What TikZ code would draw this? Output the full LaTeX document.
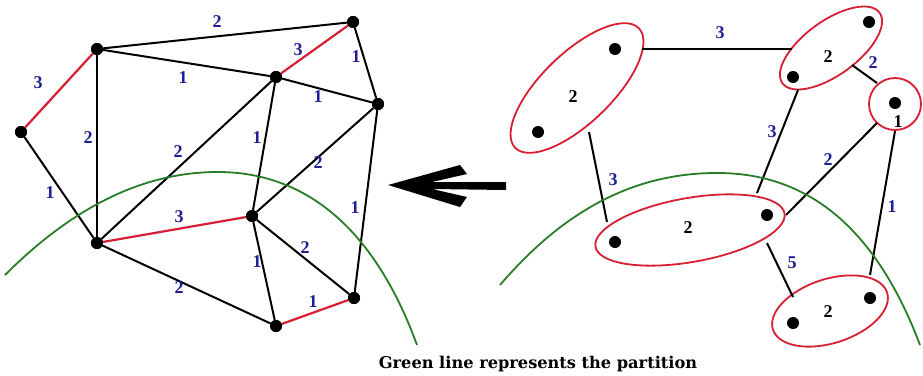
\documentclass[tikz,border=0pt]{standalone}
\usepackage{fontspec}
\setmainfont{Liberation Serif}
\newfontfamily\capfont{DejaVu Serif}
\usetikzlibrary{shapes.geometric}
\definecolor{lblue}{RGB}{30,30,150}
\definecolor{ered}{RGB}{215,30,50}
\definecolor{pgreen}{RGB}{40,125,40}
\begin{document}
\begin{tikzpicture}[x=1pt,y=-1pt,
  vtx/.style={circle,fill=black,inner sep=0pt,minimum size=12pt},
  edge/.style={line width=2pt,black},
  thinedge/.style={line width=1.2pt,black},
  redge/.style={line width=2.2pt,ered},
  lbl/.style={font=\fontsize{18}{18}\selectfont\bfseries,text=lblue,inner sep=0pt},
  wlbl/.style={font=\fontsize{18}{18}\selectfont\bfseries,text=black,inner sep=0pt},
  group/.style={ellipse,draw=ered,line width=1.8pt,inner sep=0pt},
  part/.style={draw=pgreen,line width=1.8pt}
]
\useasboundingbox (0,0) rectangle (923,375);

% ---------- left graph ----------
\node[vtx] (A) at (21,132) {};
\node[vtx] (B) at (97,49) {};
\node[vtx] (C) at (353,22) {};
\node[vtx] (D) at (276,77) {};
\node[vtx] (E) at (378,104) {};
\node[vtx] (F) at (97,243) {};
\node[vtx] (G) at (252,216) {};
\node[vtx] (H) at (276,326) {};
\node[vtx] (I) at (354,298) {};

\draw[redge] (A) -- (B);
\draw[edge] (A) -- (F);
\draw[edge] (B) -- (C);
\draw[edge] (B) -- (D);
\draw[thinedge] (B) -- (F);
\draw[redge] (C) -- (D);
\draw[edge] (C) -- (E);
\draw[edge] (D) -- (E);
\draw[edge] (D) -- (F);
\draw[edge] (D) -- (G);
\draw[edge] (E) -- (G);
\draw[edge] (E) -- (I);
\draw[redge] (F) -- (G);
\draw[edge] (F) -- (H);
\draw[edge] (G) -- (H);
\draw[edge] (G) -- (I);
\draw[redge] (H) -- (I);

\draw[part] (5,275) .. controls (60,220) and (130,173) .. (215,172)
                    .. controls (300,171) and (372,222) .. (417,345);

\foreach \n in {A,B,C,D,E,F,G,H,I} \node[vtx] at (\n) {};

\node[lbl] (lAB) at (38,83) {3};
\node[lbl] (lAF) at (50,193) {1};
\node[lbl] (lBC) at (217,22) {2};
\node[lbl] (lBD) at (183,78) {1};
\node[lbl] (lBF) at (88,138) {2};
\node[lbl] (lCD) at (298,50) {3};
\node[lbl] (lCE) at (356,57) {1};
\node[lbl] (lDE) at (318,97) {1};
\node[lbl] (lDF) at (178,152) {2};
\node[lbl] (lDG) at (257,138) {1};
\node[lbl] (lEG) at (318,163) {2};
\node[lbl] (lEI) at (355,208) {1};
\node[lbl] (lFG) at (179,217) {3};
\node[lbl] (lFH) at (179,288) {2};
\node[lbl] (lGH) at (257,262) {1};
\node[lbl] (lGI) at (305,248) {2};
\node[lbl] (lHI) at (313,302) {1};

% ---------- arrow ----------
\fill[black] (388,185) -- (460,165) -- (467,174) -- (432,182) -- (506,182) -- (506,190) -- (432,189) -- (467,197) -- (460,207) -- cycle;

% ---------- right graph ----------
\node[group,minimum width=172pt,minimum height=70pt,rotate=44] (g1) at (577,88) {};
\node[group,minimum width=120pt,minimum height=54pt,rotate=36] (g2) at (831,48) {};
\node[circle,draw=ered,line width=1.8pt,minimum size=52pt,inner sep=0pt] (g5) at (895,104) {};
\node[group,minimum width=192pt,minimum height=64pt,rotate=10] (g3) at (690,230) {};
\node[group,minimum width=120pt,minimum height=64pt,rotate=18] (g4) at (830,311) {};

\node[vtx] (p1) at (615,49) {};
\node[vtx] (p2) at (538,132) {};
\node[vtx] (p3) at (869,22) {};
\node[vtx] (p4) at (793,77) {};
\node[vtx] (p5) at (895,103) {};
\node[vtx] (p6) at (615,242) {};
\node[vtx] (p7) at (767,215) {};
\node[vtx] (p8) at (793,323) {};
\node[vtx] (p9) at (870,298) {};

\coordinate (r1a) at (642,49);  \coordinate (r2a) at (792,49);
\coordinate (r1b) at (589,132); \coordinate (r3a) at (607,222);
\coordinate (r2b) at (798,90);  \coordinate (r3b) at (757,193);
\coordinate (r2c) at (852,65);  \coordinate (rca) at (877,83);
\coordinate (rcb) at (877,123); \coordinate (r3c) at (786,215);
\coordinate (rcc) at (895,131); \coordinate (r4a) at (870,275);
\coordinate (r3d) at (767,243); \coordinate (r4b) at (793,297);

\draw[thinedge] (r1a) -- (r2a);
\draw[edge] (r1b) -- (r3a);
\draw[edge] (r2b) -- (r3b);
\draw[edge] (r2c) -- (rca);
\draw[edge] (rcb) -- (r3c);
\draw[edge] (rcc) -- (r4a);
\draw[edge] (r3d) -- (r4b);

\draw[part] (500,285) .. controls (560,215) and (630,172) .. (720,173)
                      .. controls (800,174) and (872,218) .. (920,345);

\node[wlbl] (w1) at (573,97) {2};
\node[wlbl] (w2) at (828,57) {2};
\node[wlbl] (w3) at (688,228) {2};
\node[wlbl] (w4) at (828,312) {2};
\node[wlbl] (w5) at (898,122) {1};

\node[lbl] (m1) at (720,33) {3};
\node[lbl] (m2) at (613,180) {3};
\node[lbl] (m3) at (772,132) {3};
\node[lbl] (m4) at (873,63) {2};
\node[lbl] (m5) at (828,160) {2};
\node[lbl] (m6) at (892,207) {1};
\node[lbl] (m7) at (792,263) {5};

% ---------- caption ----------
\node[anchor=base,inner sep=0pt,font=\capfont\bfseries\fontsize{16.2}{16.2}\selectfont] (cap) at (538,368) {Green line represents the partition};
\end{tikzpicture}
\end{document}
